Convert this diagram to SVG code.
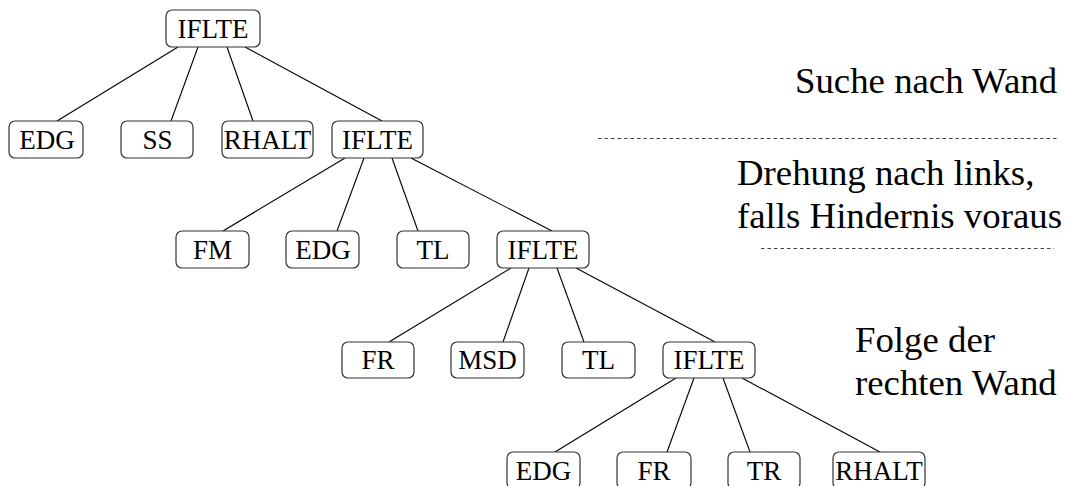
<svg xmlns="http://www.w3.org/2000/svg" width="1066" height="486" viewBox="0 0 1066 486">
  <style>
    .box { fill: #ffffff; stroke: #333333; stroke-width: 1.2; }
    text { font-family: 'Liberation Serif', 'Times New Roman', serif; fill: #000000; }
    .lbl { font-size: 27px; text-anchor: middle; }
    .note { font-size: 36.8px; }
    .edge { stroke: #000000; stroke-width: 1.1; fill: none; }
    .sep { stroke: #444444; stroke-width: 1; stroke-dasharray: 3.5 3; fill: none; }
  </style>

  <!-- tree connectors -->
  <g id="connectors">
    <line class="edge" x1="178" y1="47" x2="57" y2="121"/>
    <line class="edge" x1="198" y1="47" x2="171" y2="121"/>
    <line class="edge" x1="227" y1="47" x2="253" y2="121"/>
    <line class="edge" x1="245" y1="47" x2="382" y2="121"/>

    <line class="edge" x1="345" y1="158" x2="223" y2="231"/>
    <line class="edge" x1="364" y1="158" x2="337" y2="231"/>
    <line class="edge" x1="392" y1="158" x2="418" y2="231"/>
    <line class="edge" x1="411" y1="158" x2="552" y2="231"/>

    <line class="edge" x1="511" y1="268" x2="389" y2="342"/>
    <line class="edge" x1="529" y1="268" x2="503" y2="342"/>
    <line class="edge" x1="557" y1="268" x2="584" y2="342"/>
    <line class="edge" x1="576" y1="268" x2="715" y2="342"/>

    <line class="edge" x1="676" y1="378" x2="555" y2="452"/>
    <line class="edge" x1="694" y1="378" x2="667" y2="452"/>
    <line class="edge" x1="723" y1="378" x2="750" y2="452"/>
    <line class="edge" x1="742" y1="378" x2="880" y2="452"/>
  </g>

  <!-- level 0 -->
  <g id="n-root"><rect class="box" x="166" y="10" width="94" height="37" rx="6"/><text class="lbl" x="213" y="37.5">IFLTE</text></g>

  <!-- level 1 -->
  <g id="n1-edg"><rect class="box" x="9" y="121" width="74" height="37" rx="6"/><text class="lbl" x="47" y="148.5">EDG</text></g>
  <g id="n1-ss"><rect class="box" x="121" y="121" width="72" height="37" rx="6"/><text class="lbl" x="157.5" y="148.5">SS</text></g>
  <g id="n1-rhalt"><rect class="box" x="222" y="121" width="91" height="37" rx="6"/><text class="lbl" x="267.5" y="148.5">RHALT</text></g>
  <g id="n1-iflte"><rect class="box" x="332" y="121" width="91" height="37" rx="6"/><text class="lbl" x="377.5" y="148.5">IFLTE</text></g>

  <!-- level 2 -->
  <g id="n2-fm"><rect class="box" x="176" y="231" width="73" height="37" rx="6"/><text class="lbl" x="212.5" y="258.5">FM</text></g>
  <g id="n2-edg"><rect class="box" x="286" y="231" width="73" height="37" rx="6"/><text class="lbl" x="323" y="258.5">EDG</text></g>
  <g id="n2-tl"><rect class="box" x="397" y="231" width="72" height="37" rx="6"/><text class="lbl" x="433" y="258.5">TL</text></g>
  <g id="n2-iflte"><rect class="box" x="497" y="231" width="92" height="37" rx="6"/><text class="lbl" x="543" y="258.5">IFLTE</text></g>

  <!-- level 3 -->
  <g id="n3-fr"><rect class="box" x="342" y="342" width="72" height="36" rx="6"/><text class="lbl" x="378" y="369">FR</text></g>
  <g id="n3-msd"><rect class="box" x="451" y="342" width="73" height="36" rx="6"/><text class="lbl" x="487.5" y="369">MSD</text></g>
  <g id="n3-tl"><rect class="box" x="562" y="342" width="73" height="36" rx="6"/><text class="lbl" x="598.5" y="369">TL</text></g>
  <g id="n3-iflte"><rect class="box" x="663" y="342" width="92" height="36" rx="6"/><text class="lbl" x="709" y="369">IFLTE</text></g>

  <!-- level 4 -->
  <g id="n4-edg"><rect class="box" x="507" y="452" width="73" height="37" rx="6"/><text class="lbl" x="543.5" y="479.5">EDG</text></g>
  <g id="n4-fr"><rect class="box" x="617" y="452" width="74" height="37" rx="6"/><text class="lbl" x="654" y="479.5">FR</text></g>
  <g id="n4-tr"><rect class="box" x="728" y="452" width="72" height="37" rx="6"/><text class="lbl" x="764" y="479.5">TR</text></g>
  <g id="n4-rhalt"><rect class="box" x="833" y="452" width="92" height="37" rx="6"/><text class="lbl" x="879" y="479.5">RHALT</text></g>

  <!-- behaviour annotations -->
  <g id="notes">
    <text class="note" x="795" y="93">Suche nach Wand</text>
    <line class="sep" x1="598" y1="138.5" x2="1057" y2="138.5"/>
    <text class="note" x="737" y="185">Drehung nach links,</text>
    <text class="note" x="737" y="228">falls Hindernis voraus</text>
    <line class="sep" x1="761" y1="248.5" x2="1054" y2="248.5"/>
    <text class="note" x="855" y="352">Folge der</text>
    <text class="note" x="855" y="395">rechten Wand</text>
  </g>
</svg>
